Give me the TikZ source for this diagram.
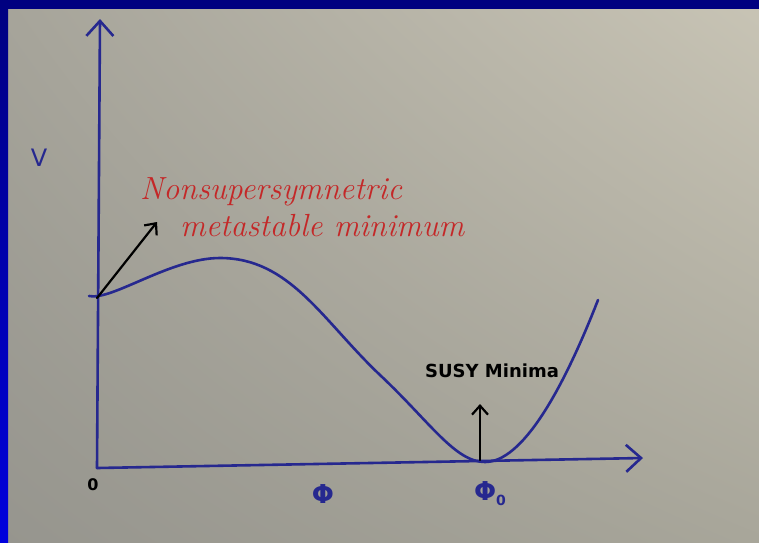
\documentclass[tikz,border=0pt]{standalone}
\usepackage{fontspec}
\usepackage{tikz}
\usetikzlibrary{arrows.meta,shadings}
\setsansfont{DejaVu Sans}
\definecolor{paperul}{HTML}{A6A49A}
\definecolor{paperur}{HTML}{C8C4B5}
\definecolor{paperll}{HTML}{96958E}
\definecolor{paperlr}{HTML}{A8A69A}
\definecolor{frame}{HTML}{000080}
\definecolor{framelow}{HTML}{0000DD}
\definecolor{ink}{HTML}{26288F}
\definecolor{redink}{HTML}{C42828}
\tikzset{
  axis/.style={draw=ink,line width=2.6pt,-{Straight Barb[length=15pt,width=27pt]}},
  pencurve/.style={draw=ink,line width=2.6pt},
  blackarrow/.style={draw=black,line width=2.2pt,-{Straight Barb[length=9pt,width=16pt]}},
  inklabel/.style={text=ink,font=\sffamily\fontsize{24}{26}\selectfont},
  redlabel/.style={text=redink,font=\itshape\fontsize{32}{36}\selectfont,align=left},
}

\begin{document}
\begin{tikzpicture}[x=1pt,y=-1pt,line cap=round,line join=round]
  % paper and frame
  \useasboundingbox (0,0) rectangle (759,542);
  \shade[upper left=paperul,upper right=paperur,lower left=paperll,lower right=paperlr]
    (0,0) rectangle (759,542);
  \fill[frame] (0,0) rectangle (759,9);
  \shade[top color=frame,bottom color=framelow] (0,0) rectangle (8,542);

  % axes
  \coordinate (O) at (97,468);
  \coordinate (ytop) at (100,19);
  \coordinate (xend) at (643,458);
  \draw[axis] (O) -- (ytop);
  \draw[axis] (O) -- (xend);
  \draw[ink,line width=2.6pt] (565,459) -- (573,459);

  % labels
  \node[inklabel] (vlabel) at (39,158) {V};
  \node[text=black,font=\sffamily\bfseries\fontsize{16}{18}\selectfont] (origin) at (93,485) {0};
  \node[inklabel,font=\sffamily\bfseries\fontsize{26}{28}\selectfont] (phi) at (323,494) {Φ};
  \node[inklabel,font=\sffamily\bfseries\fontsize{26}{28}\selectfont] (phizero) at (490,494)
    {Φ\raisebox{-5pt}{\fontsize{14}{14}\selectfont 0}};
  \node[redlabel,anchor=north west,inner sep=0pt] (metastable) at (140,177)
    {Nonsupersymnetric\\[1pt]\hspace*{40pt}metastable minimum};
  \node[text=black,font=\sffamily\bfseries\fontsize{18}{20}\selectfont] (susy) at (492,371) {SUSY Minima};

  % curve
  \draw[pencurve]
    (89,296)
    .. controls (112,301) and (170,258) .. (220,258)
    .. controls (290,258) and (322,320) .. (380,375)
    .. controls (430,422) and (455,462) .. (485,462)
    .. controls (522,462) and (562,392) .. (598,300);

  % pointers
  \coordinate (metabase) at (97,298);
  \coordinate (metatip) at (157,222);
  \draw[blackarrow] (metabase) -- (metatip);
  \coordinate (susybase) at (480,460);
  \coordinate (susytip) at (480,404);
  \draw[blackarrow] (susybase) -- (susytip);
\end{tikzpicture}
\end{document}
